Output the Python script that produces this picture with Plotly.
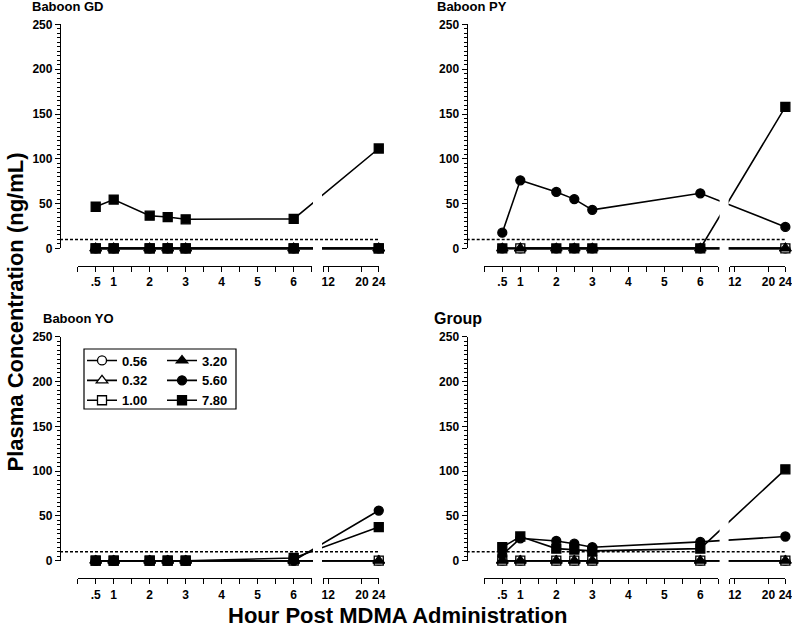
import plotly.graph_objects as go

W, H = 792, 630

# ---------------- data ----------------
HOURS = [0.5, 1, 2, 2.5, 3, 6, 24]
DOSES = ["0.56", "0.32", "1.00", "3.20", "5.60", "7.80"]
LOQ = 10

X_TICK_LEFT_VALS = [0, 0.5, 1, 1.5, 2, 2.5, 3, 3.5, 4, 4.5, 5, 5.5, 6, 6.5]
X_TICK_LEFT_TEXT = ["", ".5", "1", "", "2", "", "3", "", "4", "", "5", "", "6", ""]
X_TICK_RIGHT_VALS = [10.8, 12, 20, 24]
X_TICK_RIGHT_TEXT = ["", "12", "20", "24"]
Y_TICKS = [0, 50, 100, 150, 200, 250]

# Baboon GD
gd_056 = [0, 0, 0, 0, 0, 0, 0]
gd_032 = [0, 0, 0, 0, 0, 0, 0]
gd_100 = [0, 0, 0, 0, 0, 0, 0]
gd_320 = [0, 0, 0, 0, 0, 0, 0]
gd_560 = [0, 0, 0, 0, 0, 0, 0]
gd_780 = [46.5, 54.5, 36.5, 35, 32.5, 33, 111.5]

# Baboon PY
py_056 = [0, 0, 0, 0, 0, 0, 0]
py_032 = [0, 0, 0, 0, 0, 0, 0]
py_100 = [None, 0, None, None, None, None, 0]
py_320 = [None, 0, None, None, None, None, 0]
py_560 = [17.5, 76, 63, 55, 43, 61.5, 24]
py_780 = [0, None, 0, 0, 0, 0, 158]

# Baboon YO
yo_056 = [0, 0, 0, 0, 0, 0, 0]
yo_032 = [0, 0, 0, 0, 0, 0, 0]
yo_100 = [0, 0, 0, 0, 0, 0, 0]
yo_320 = [0, 0, 0, 0, 0, 0, 0]
yo_560 = [0, 0, 0, 0, 0, 0, 56]
yo_780 = [0, 0, 0, 0, 0, 3, 37.5]

# Group
grp_056 = [0, 0, 0, 0, 0, 0, 0]
grp_032 = [0, 0, 0, 0, 0, 0, 0]
grp_100 = [0, 0, 0, 0, 0, 0, 0]
grp_320 = [0, 0, 0, 0, 0, 0, 0]
grp_560 = [6.5, 25, 22, 19, 15, 21, 27]
grp_780 = [15, 27, 13.5, 12.5, 11, 13.5, 102]

PANELS = [
    dict(title="Baboon GD", tsize=13, series=[gd_056, gd_032, gd_100, gd_320, gd_560, gd_780],
         override={"5.60": "square"}, legend=False),
    dict(title="Baboon PY", tsize=13, series=[py_056, py_032, py_100, py_320, py_560, py_780],
         override={}, legend=False),
    dict(title="Baboon YO", tsize=13, series=[yo_056, yo_032, yo_100, yo_320, yo_560, yo_780],
         override={}, legend=True),
    dict(title="Group", tsize=16, series=[grp_056, grp_032, grp_100, grp_320, grp_560, grp_780],
         override={}, legend=False),
]

# ---------------- styling / geometry (page pixels) ----------------
FONT = "Liberation Sans, Arial, sans-serif"
STYLE = {
    "0.56": dict(symbol="circle", fill="white", size=9),
    "0.32": dict(symbol="triangle-up", fill="white", size=10),
    "1.00": dict(symbol="square", fill="white", size=9),
    "3.20": dict(symbol="triangle-up", fill="black", size=10),
    "5.60": dict(symbol="circle", fill="black", size=9),
    "7.80": dict(symbol="square", fill="black", size=9),
}

PX_PER_H = 36.0
LEFT_MAX = 6.5
RIGHT_MIN = 10.8
D12 = 6.96
R_SCALE = 50.5 / 12 / 36.0
GAP0, GAP1 = 6.536, 6.786
Y_PX = 224.0 / 250.0
YPAD = 12


def fx(px):
    return px / W


def fy(py):
    return 1 - py / H


def disp(h):
    return h if h <= LEFT_MAX else D12 + (h - 12) * R_SCALE


GEOM = [
    dict(ox=77.7, yx=60.0, ytop=24.4, ybot=248.4, xline=265.7, tx=30, ty=7),
    dict(ox=484.3, yx=466.7, ytop=24.4, ybot=248.4, xline=265.7, tx=435, ty=7),
    dict(ox=77.7, yx=60.0, ytop=336.7, ybot=560.7, xline=578.3, tx=41, ty=318),
    dict(ox=484.3, yx=466.7, ytop=336.7, ybot=560.7, xline=578.3, tx=432, ty=318),
]


def aname(a, i):
    return f"{a}axis" + ("" if i == 1 else str(i))


def aref(a, i):
    return a + ("" if i == 1 else str(i))


tickfont = dict(family=FONT, size=12, color="black", weight="bold")

fig = go.Figure()
layout = dict(
    width=W, height=H, margin=dict(l=0, r=0, t=0, b=0),
    paper_bgcolor="white", plot_bgcolor="rgba(0,0,0,0)",
    showlegend=True, hovermode=False,
)
shapes = []
annotations = []

for p, (panel, g) in enumerate(zip(PANELS, GEOM)):
    xd, xl, xr = 3 * p + 1, 3 * p + 2, 3 * p + 3
    yd, yv = 2 * p + 1, 2 * p + 2
    ox = g["ox"]
    x_end_px = ox + disp(24) * PX_PER_H

    layout[aname("x", xd)] = dict(
        domain=[fx(g["yx"]), fx(x_end_px + 0.5)],
        range=[(g["yx"] - ox) / PX_PER_H, disp(24) + 0.5 / PX_PER_H],
        visible=False, anchor=aref("y", yd), fixedrange=True)
    layout[aname("y", yd)] = dict(
        domain=[fy(g["ybot"] + YPAD * Y_PX), fy(g["ytop"] - YPAD * Y_PX)],
        range=[-YPAD, 250 + YPAD], visible=False, anchor=aref("x", xd), fixedrange=True)
    layout[aname("y", yv)] = dict(
        domain=[fy(g["ybot"]), fy(g["ytop"])], range=[0, 250],
        anchor="free", position=fx(g["yx"]), showline=True, linecolor="black", linewidth=1.3,
        ticks="outside", tickmode="array", tickvals=Y_TICKS, ticklen=5, tickwidth=1.3,
        tickcolor="black", tickfont=tickfont, showgrid=False, zeroline=False,
        minor=dict(tickmode="linear", tick0=0, dtick=5, ticks="outside", ticklen=3,
                   tickwidth=1, tickcolor="black", showgrid=False),
        automargin=False, fixedrange=True, ticklabeloverflow="allow")
    layout[aname("x", xl)] = dict(
        domain=[fx(ox), fx(ox + LEFT_MAX * PX_PER_H)], range=[0, LEFT_MAX],
        anchor="free", position=fy(g["xline"]), showline=True, linecolor="black",
        linewidth=1.3, ticks="outside", tickmode="array", tickvals=X_TICK_LEFT_VALS,
        ticktext=X_TICK_LEFT_TEXT, ticklen=5, tickwidth=1.2, tickcolor="black",
        tickfont=tickfont, showgrid=False, zeroline=False, automargin=False, fixedrange=True,
        ticklabeloverflow="allow")
    layout[aname("x", xr)] = dict(
        domain=[fx(ox + disp(RIGHT_MIN) * PX_PER_H), fx(x_end_px)], range=[RIGHT_MIN, 24],
        anchor="free", position=fy(g["xline"]), showline=True, linecolor="black",
        linewidth=1.3, ticks="outside", tickmode="array", tickvals=X_TICK_RIGHT_VALS,
        ticktext=X_TICK_RIGHT_TEXT, ticklen=5, tickwidth=1.2, tickcolor="black",
        tickfont=tickfont, showgrid=False, zeroline=False, automargin=False, fixedrange=True,
        ticklabeloverflow="allow")

    # dummy traces so the visible axis segments get drawn
    for xa in (xl, xr):
        fig.add_trace(go.Scatter(x=[None], y=[None], xaxis=aref("x", xa), yaxis=aref("y", yv),
                                 showlegend=False, hoverinfo="skip"))

    xs = [disp(h) for h in HOURS]
    for k, (dose, vals) in enumerate(zip(DOSES, panel["series"])):
        st = STYLE[dose]
        sym = panel["override"].get(dose, st["symbol"])
        fig.add_trace(go.Scatter(
            x=xs, y=vals, mode="lines+markers", name=dose, connectgaps=True,
            xaxis=aref("x", xd), yaxis=aref("y", yd), cliponaxis=False,
            line=dict(color="black", width=1.6),
            marker=dict(symbol=sym, size=st["size"], color=st["fill"],
                        line=dict(color="black", width=1.3)),
            showlegend=panel["legend"],
            legend="legend" if k < 3 else "legend2",
        ))

    # break gap in the lines
    shapes.append(dict(type="rect", xref=aref("x", xd), yref=aref("y", yd) + " domain",
                       x0=GAP0, x1=GAP1, y0=0, y1=1, fillcolor="white",
                       line=dict(width=0), layer="above"))
    # LOQ dotted line
    shapes.append(dict(type="line", xref=aref("x", xd) + " domain", yref=aref("y", yd),
                       x0=0, x1=1, y0=LOQ, y1=LOQ,
                       line=dict(color="black", width=1.5, dash="3px,2px"), layer="above"))
    tfont = dict(family=FONT, size=panel["tsize"], color="black", weight="bold")
    annotations.append(dict(text=panel["title"], xref="paper", yref="paper",
                            x=fx(g["tx"]), y=fy(g["ty"]), xanchor="left", yanchor="middle",
                            showarrow=False, font=tfont))

# legend box
shapes.append(dict(type="rect", xref="paper", yref="paper", x0=fx(84), x1=fx(236),
                   y0=fy(409), y1=fy(349), line=dict(color="black", width=1.2),
                   fillcolor="rgba(0,0,0,0)"))

annotations.append(dict(text="Plasma Concentration (ng/mL)", xref="paper", yref="paper",
                        x=0, y=fy(312), textangle=-90, showarrow=False,
                        xanchor="left", yanchor="middle",
                        font=dict(family=FONT, size=22, color="black", weight="bold")))
annotations.append(dict(text="Hour Post MDMA Administration", xref="paper", yref="paper",
                        x=fx(398), y=0, showarrow=False,
                        xanchor="center", yanchor="bottom",
                        font=dict(family=FONT, size=22, color="black", weight="bold")))

legfont = dict(family=FONT, size=13, color="black", weight="bold")
layout["legend"] = dict(x=fx(82), y=fy(345.5), xanchor="left", yanchor="top",
                        bgcolor="rgba(0,0,0,0)", borderwidth=0, font=legfont,
                        itemwidth=30, tracegroupgap=0, orientation="v")
layout["legend2"] = dict(x=fx(162), y=fy(345.5), xanchor="left", yanchor="top",
                         bgcolor="rgba(0,0,0,0)", borderwidth=0, font=legfont,
                         itemwidth=30, tracegroupgap=0, orientation="v")
layout["shapes"] = shapes
layout["annotations"] = annotations
fig.update_layout(**layout)

# remove the browser's default 8px body margin so the 792x630 figure fills the window
fig.write_html("out.html", config={"displayModeBar": False},
               post_script="document.body.style.margin='0px';")
